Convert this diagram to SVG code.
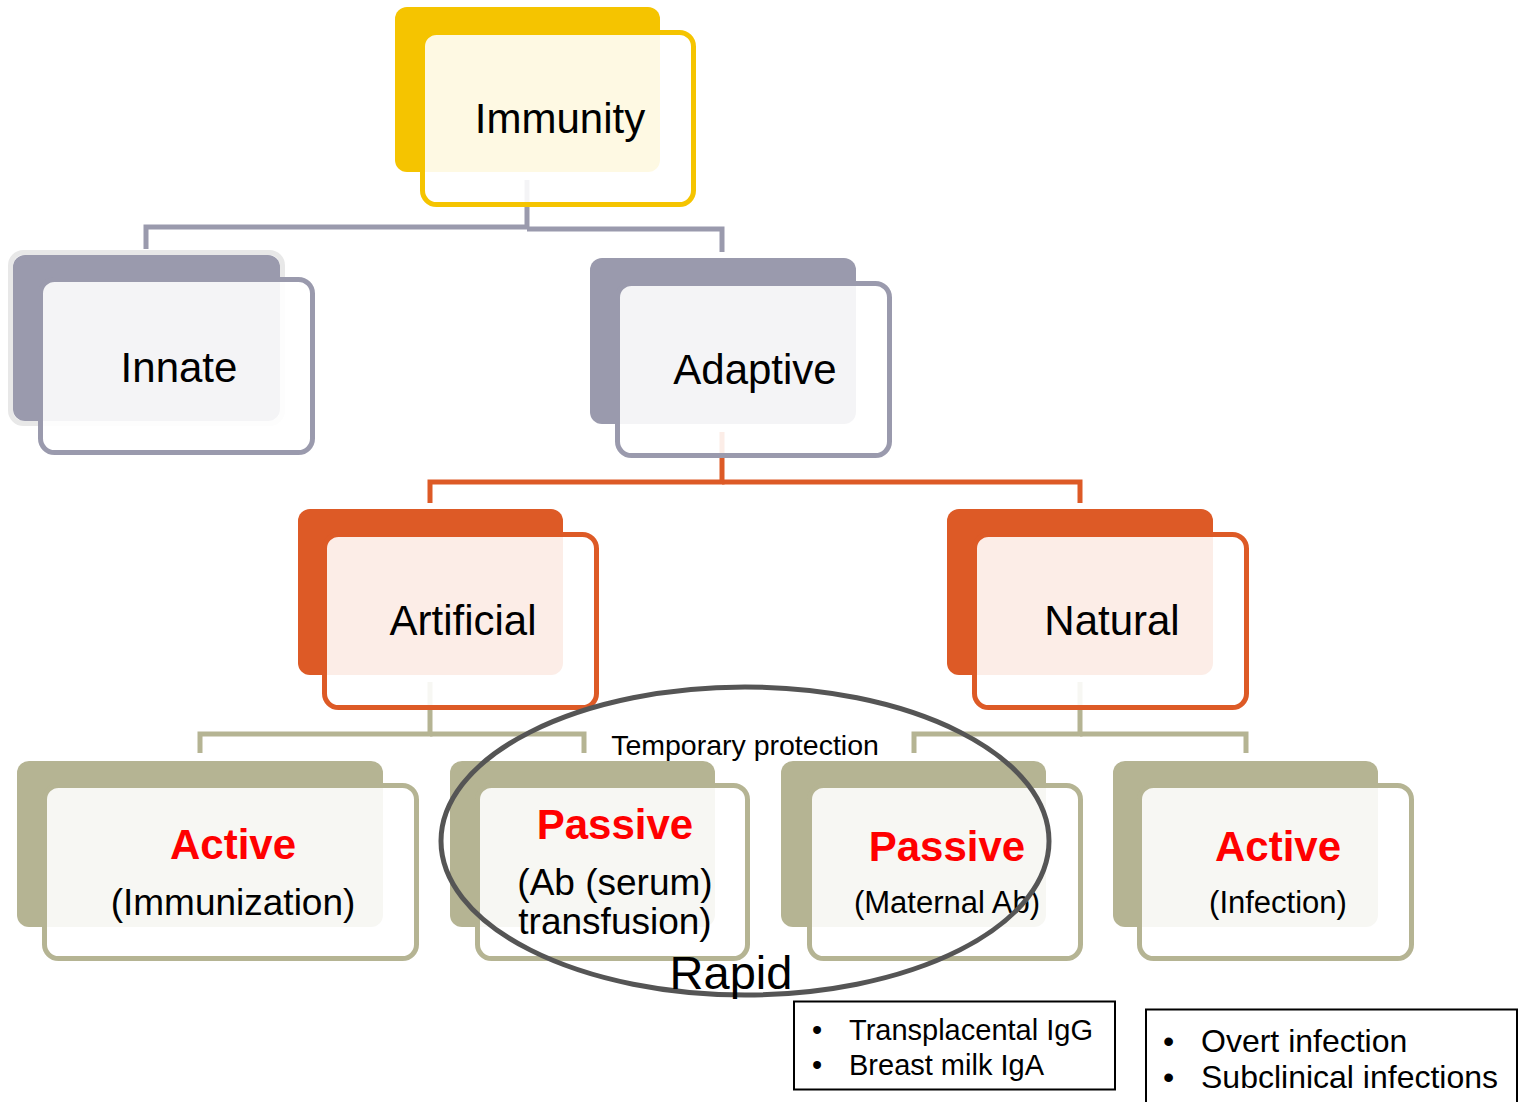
<svg xmlns="http://www.w3.org/2000/svg" width="1523" height="1102" viewBox="0 0 1523 1102">
<style>
text{font-family:"Liberation Sans",Arial,sans-serif}
.lbl{font-size:42px;fill:#000;text-anchor:middle}
.red{font-size:42px;font-weight:bold;fill:#ff0000;text-anchor:middle}
.sub{fill:#000;text-anchor:middle}
.front{fill:#ffffff;fill-opacity:0.89;stroke-width:5}
.conn{fill:none;stroke-width:5;stroke-linejoin:miter}
.y .back{fill:#f5c400}.y .front{stroke:#f5c400}
.g .back{fill:#9a9aad}.g .front{stroke:#9a9aad}
.o .back{fill:#dd5a26}.o .front{stroke:#dd5a26}
.k .back{fill:#b5b493}.k .front{stroke:#b5b493}
.note{font-size:29px;fill:#000}
</style>
<rect width="1523" height="1102" fill="#ffffff"/>
<g id="connectors">
<path class="conn" stroke="#9a9aad" d="M527,180 V227 H146 V249"/>
<path class="conn" stroke="#9a9aad" d="M527,229 H722 V252"/>
<path class="conn" stroke="#dd5a26" d="M722,432 V482 H430 V503"/>
<path class="conn" stroke="#dd5a26" d="M722,482 H1080 V503"/>
<path class="conn" stroke="#b5b493" d="M430,682 V734 H200 V753"/>
<path class="conn" stroke="#b5b493" d="M430,734 H584 V753"/>
<path class="conn" stroke="#b5b493" d="M1080,682 V734 H914 V753"/>
<path class="conn" stroke="#b5b493" d="M1080,734 H1246 V753"/>
</g>
<g id="immunity" class="y">
<rect class="back" x="395" y="7" width="265" height="165" rx="12"/>
<rect class="front" x="422.5" y="32.5" width="271" height="172" rx="14"/>
<text class="lbl" x="560" y="133">Immunity</text>
</g>
<g id="innate" class="g">
<rect x="10.5" y="252.5" width="272" height="171" rx="13" fill="none" stroke="#e8e8e8" stroke-width="5"/>
<rect class="back" x="13" y="255" width="267" height="166" rx="12"/>
<rect class="front" x="40.5" y="279.5" width="272" height="173" rx="14"/>
<text class="lbl" x="179" y="382">Innate</text>
</g>
<g id="adaptive" class="g">
<rect class="back" x="590" y="258" width="266" height="166" rx="12"/>
<rect class="front" x="617.5" y="283.5" width="272" height="172" rx="14"/>
<text class="lbl" x="755" y="384">Adaptive</text>
</g>
<g id="artificial" class="o">
<rect class="back" x="298" y="509" width="265" height="166" rx="12"/>
<rect class="front" x="324.5" y="534.5" width="272" height="173" rx="14"/>
<text class="lbl" x="463" y="635">Artificial</text>
</g>
<g id="natural" class="o">
<rect class="back" x="947" y="509" width="266" height="166" rx="12"/>
<rect class="front" x="974.5" y="534.5" width="272" height="173" rx="14"/>
<text class="lbl" x="1112" y="635">Natural</text>
</g>
<g id="active-immunization" class="k">
<rect class="back" x="17" y="761" width="366" height="166" rx="12"/>
<rect class="front" x="44.5" y="785.5" width="372" height="173" rx="14"/>
<text class="red" x="233" y="859">Active</text>
<text class="sub" x="233" y="915" font-size="37">(Immunization)</text>
</g>
<g id="passive-serum" class="k">
<rect class="back" x="450" y="761" width="265" height="166" rx="12"/>
<rect class="front" x="477.5" y="785.5" width="270" height="173" rx="14"/>
<text class="red" x="615" y="839">Passive</text>
<text class="sub" x="615" y="895" font-size="37">(Ab (serum)</text>
<text class="sub" x="615" y="934" font-size="37">transfusion)</text>
</g>
<g id="passive-maternal" class="k">
<rect class="back" x="781" y="761" width="265" height="166" rx="12"/>
<rect class="front" x="809.5" y="785.5" width="271" height="173" rx="14"/>
<text class="red" x="947" y="861">Passive</text>
<text class="sub" x="947" y="913" font-size="31">(Maternal Ab)</text>
</g>
<g id="active-infection" class="k">
<rect class="back" x="1113" y="761" width="265" height="166" rx="12"/>
<rect class="front" x="1139.5" y="785.5" width="272" height="173" rx="14"/>
<text class="red" x="1278" y="861">Active</text>
<text class="sub" x="1278" y="913" font-size="31">(Infection)</text>
</g>
<g id="temporary-ellipse">
<ellipse cx="745" cy="841" rx="304" ry="154" fill="none" stroke="#555555" stroke-width="5"/>
<text x="745" y="755" font-size="28.5" text-anchor="middle" fill="#000">Temporary protection</text>
<text x="731" y="989" font-size="47" text-anchor="middle" fill="#000">Rapid</text>
</g>
<g id="maternal-notes">
<rect x="794" y="1001.5" width="321" height="88" fill="#ffffff" stroke="#000" stroke-width="2"/>
<text class="note" x="812" y="1040">•</text>
<text class="note" x="849" y="1040">Transplacental IgG</text>
<text class="note" x="812" y="1075">•</text>
<text class="note" x="849" y="1075">Breast milk IgA</text>
</g>
<g id="infection-notes">
<rect x="1146" y="1009.5" width="371" height="110" fill="#ffffff" stroke="#000" stroke-width="2"/>
<text x="1163" y="1052" font-size="32" fill="#000">•</text>
<text x="1201" y="1052" font-size="32" fill="#000">Overt infection</text>
<text x="1163" y="1088" font-size="32" fill="#000">•</text>
<text x="1201" y="1088" font-size="32" fill="#000">Subclinical infections</text>
</g>
</svg>
